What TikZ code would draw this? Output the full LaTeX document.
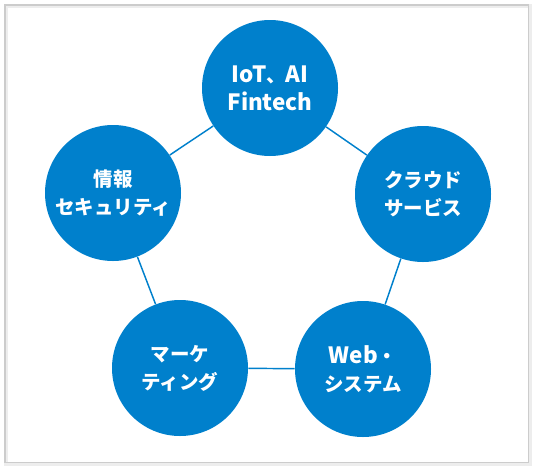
\documentclass[tikz,border=0pt]{standalone}
\usepackage{fontspec}
\setmainfont{Noto Sans CJK JP}
\definecolor{mainblue}{RGB}{0,128,204}
\newcommand{\lat}[1]{{\fontsize{16.8}{21}\selectfont #1}}
\tikzset{
  circ/.style={circle, fill=mainblue, minimum size=102pt, inner sep=0pt,
    text=white, align=center, font=\bfseries\fontsize{14.6}{21}\selectfont},
  link/.style={draw=mainblue, line width=1.1pt}
}
\begin{document}
\begin{tikzpicture}[x=0.75pt,y=-0.75pt]
\useasboundingbox (0,0) rectangle (534,468);
\draw[black!7, line width=3pt] (5.5,5.5) rectangle (529.5,463.5);
\draw[black!20, line width=1.2pt] (5,5) rectangle (528.5,462.5);
\node[circ] (top) at (270,88) {\lat{IoT}、\lat{AI}\\\lat{Fintech}};
\node[circ] (right) at (423,194) {クラウド\\サービス};
\node[circ] (bright) at (363,369) {\lat{Web}・\\システム};
\node[circ] (bleft) at (180,368) {マーケ\\ティング};
\node[circ] (left) at (113,193) {情報\\セキュリティ};
\draw[link] (top) -- (right);
\draw[link] (right) -- (bright);
\draw[link] (bright) -- (bleft);
\draw[link] (bleft) -- (left);
\draw[link] (left) -- (top);
\end{tikzpicture}
\end{document}
